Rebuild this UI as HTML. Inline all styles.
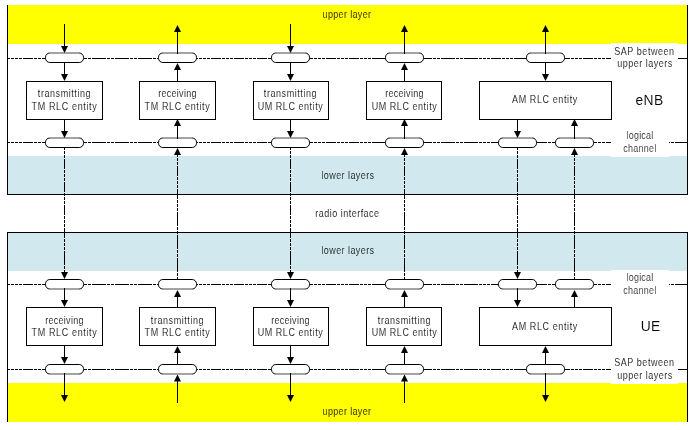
<!DOCTYPE html>
<html lang="en">
<head>
<meta charset="utf-8">
<title>RLC entities overview</title>
<style>
html,body{margin:0;padding:0;background:#fff;}
body{width:693px;height:430px;overflow:hidden;}
svg{display:block;font-family:"Liberation Sans",sans-serif;}
.t{filter:contrast(1);}
</style>
</head>
<body>
<svg width="693" height="430" viewBox="0 0 693 430">
<rect x="0" y="0" width="693" height="430" fill="#fff"/>
<rect x="8" y="5" width="679" height="39" fill="#ffff00"/>
<rect x="8" y="156" width="679" height="38" fill="#d1e9ee"/>
<rect x="8" y="233" width="679" height="38" fill="#d1e9ee"/>
<rect x="8" y="383" width="679" height="39" fill="#ffff00"/>
<rect x="7" y="5" width="1" height="190" fill="#000"/>
<rect x="687" y="5" width="1" height="190" fill="#000"/>
<rect x="7" y="194" width="681" height="1" fill="#000" />
<rect x="7" y="232" width="1" height="190" fill="#000"/>
<rect x="687" y="232" width="1" height="190" fill="#000"/>
<rect x="7" y="232" width="681" height="1" fill="#000" />
<path d="M8 58.5H10M11 58.5H14M15 58.5H18M19 58.5H22M23 58.5H33M34 58.5H37M38 58.5H41M42 58.5H46M84 58.5H87M88 58.5H91M92 58.5H106M107 58.5H110M111 58.5H114M115 58.5H129M130 58.5H133M134 58.5H137M138 58.5H152M153 58.5H156M157 58.5H159M196 58.5H198M199 58.5H202M203 58.5H206M207 58.5H210M211 58.5H221M222 58.5H225M226 58.5H229M230 58.5H233M234 58.5H244M245 58.5H248M249 58.5H252M253 58.5H256M257 58.5H267M268 58.5H272M309 58.5H313M314 58.5H317M318 58.5H321M322 58.5H325M326 58.5H336M337 58.5H340M341 58.5H344M345 58.5H348M349 58.5H359M360 58.5H363M364 58.5H367M368 58.5H371M372 58.5H386M422 58.5H432M433 58.5H436M437 58.5H440M441 58.5H455M456 58.5H459M460 58.5H463M464 58.5H478M479 58.5H482M483 58.5H486M487 58.5H490M491 58.5H501M502 58.5H505M506 58.5H509M510 58.5H513M514 58.5H537M537 58.5H547M548 58.5H551M552 58.5H570M571 58.5H574M575 58.5H578M579 58.5H582M583 58.5H593M594 58.5H597M598 58.5H601M602 58.5H605M606 58.5H612M669 58.5H670M671 58.5H674M675 58.5H687" stroke="#000" stroke-width="1" fill="none" shape-rendering="crispEdges"/>
<path d="M8 142.5H10M11 142.5H14M15 142.5H18M19 142.5H22M23 142.5H33M34 142.5H37M38 142.5H41M42 142.5H46M84 142.5H87M88 142.5H91M92 142.5H106M107 142.5H110M111 142.5H114M115 142.5H129M130 142.5H133M134 142.5H137M138 142.5H152M153 142.5H156M157 142.5H159M196 142.5H198M199 142.5H202M203 142.5H206M207 142.5H210M211 142.5H221M222 142.5H225M226 142.5H229M230 142.5H233M234 142.5H244M245 142.5H248M249 142.5H252M253 142.5H256M257 142.5H267M268 142.5H272M309 142.5H313M314 142.5H317M318 142.5H321M322 142.5H325M326 142.5H336M337 142.5H340M341 142.5H344M345 142.5H348M349 142.5H359M360 142.5H363M364 142.5H367M368 142.5H371M372 142.5H386M422 142.5H432M433 142.5H436M437 142.5H440M441 142.5H455M456 142.5H459M460 142.5H463M464 142.5H478M479 142.5H482M483 142.5H486M487 142.5H490M491 142.5H501M502 142.5H505M506 142.5H509M510 142.5H513M514 142.5H537M537 142.5H547M548 142.5H551M552 142.5H570M571 142.5H574M575 142.5H578M579 142.5H582M583 142.5H593M594 142.5H597M598 142.5H601M602 142.5H605M606 142.5H612M669 142.5H670M671 142.5H674M675 142.5H687" stroke="#000" stroke-width="1" fill="none" shape-rendering="crispEdges"/>
<path d="M8 284.5H10M11 284.5H14M15 284.5H18M19 284.5H22M23 284.5H33M34 284.5H37M38 284.5H41M42 284.5H46M84 284.5H87M88 284.5H91M92 284.5H106M107 284.5H110M111 284.5H114M115 284.5H129M130 284.5H133M134 284.5H137M138 284.5H152M153 284.5H156M157 284.5H159M196 284.5H198M199 284.5H202M203 284.5H206M207 284.5H210M211 284.5H221M222 284.5H225M226 284.5H229M230 284.5H233M234 284.5H244M245 284.5H248M249 284.5H252M253 284.5H256M257 284.5H267M268 284.5H272M309 284.5H313M314 284.5H317M318 284.5H321M322 284.5H325M326 284.5H336M337 284.5H340M341 284.5H344M345 284.5H348M349 284.5H359M360 284.5H363M364 284.5H367M368 284.5H371M372 284.5H386M422 284.5H432M433 284.5H436M437 284.5H440M441 284.5H455M456 284.5H459M460 284.5H463M464 284.5H478M479 284.5H482M483 284.5H486M487 284.5H490M491 284.5H501M502 284.5H505M506 284.5H509M510 284.5H513M514 284.5H537M537 284.5H547M548 284.5H551M552 284.5H570M571 284.5H574M575 284.5H578M579 284.5H582M583 284.5H593M594 284.5H597M598 284.5H601M602 284.5H605M606 284.5H612M669 284.5H670M671 284.5H674M675 284.5H687" stroke="#000" stroke-width="1" fill="none" shape-rendering="crispEdges"/>
<path d="M8 369.5H10M11 369.5H14M15 369.5H18M19 369.5H22M23 369.5H33M34 369.5H37M38 369.5H41M42 369.5H46M84 369.5H87M88 369.5H91M92 369.5H106M107 369.5H110M111 369.5H114M115 369.5H129M130 369.5H133M134 369.5H137M138 369.5H152M153 369.5H156M157 369.5H159M196 369.5H198M199 369.5H202M203 369.5H206M207 369.5H210M211 369.5H221M222 369.5H225M226 369.5H229M230 369.5H233M234 369.5H244M245 369.5H248M249 369.5H252M253 369.5H256M257 369.5H267M268 369.5H272M309 369.5H313M314 369.5H317M318 369.5H321M322 369.5H325M326 369.5H336M337 369.5H340M341 369.5H344M345 369.5H348M349 369.5H359M360 369.5H363M364 369.5H367M368 369.5H371M372 369.5H386M422 369.5H432M433 369.5H436M437 369.5H440M441 369.5H455M456 369.5H459M460 369.5H463M464 369.5H478M479 369.5H482M483 369.5H486M487 369.5H490M491 369.5H501M502 369.5H505M506 369.5H509M510 369.5H513M514 369.5H537M537 369.5H547M548 369.5H551M552 369.5H570M571 369.5H574M575 369.5H578M579 369.5H582M583 369.5H593M594 369.5H597M598 369.5H601M602 369.5H605M606 369.5H612M669 369.5H670M671 369.5H674M675 369.5H687" stroke="#000" stroke-width="1" fill="none" shape-rendering="crispEdges"/>
<rect x="611" y="43" width="67" height="40" fill="#fff"/>
<rect x="611" y="125" width="58" height="32" fill="#fff"/>
<rect x="611" y="270" width="58" height="32" fill="#fff"/>
<rect x="611" y="344" width="67" height="40" fill="#fff"/>
<path d="M64.5 148V150M64.5 151V154M64.5 155V158M64.5 159V169M64.5 170V173M64.5 174V177M64.5 178V181M64.5 182V192M64.5 193V196M64.5 197V200M64.5 201V204M64.5 205V215M64.5 216V219M64.5 220V223M64.5 224V227M64.5 228V238M64.5 239V242M64.5 243V246M64.5 247V250M64.5 251V265M64.5 266V269M64.5 270V273" stroke="#000" stroke-width="1" fill="none" shape-rendering="crispEdges"/>
<path d="M177.5 155V157M177.5 158V161M177.5 162V165M177.5 166V176M177.5 177V180M177.5 181V184M177.5 185V188M177.5 189V199M177.5 200V203M177.5 204V207M177.5 208V211M177.5 212V226M177.5 227V230M177.5 231V234M177.5 235V249M177.5 250V253M177.5 254V257M177.5 258V272M177.5 273V276M177.5 277V279" stroke="#000" stroke-width="1" fill="none" shape-rendering="crispEdges"/>
<path d="M290.5 148V150M290.5 151V154M290.5 155V158M290.5 159V169M290.5 170V173M290.5 174V177M290.5 178V181M290.5 182V192M290.5 193V196M290.5 197V200M290.5 201V204M290.5 205V215M290.5 216V219M290.5 220V223M290.5 224V227M290.5 228V238M290.5 239V242M290.5 243V246M290.5 247V250M290.5 251V265M290.5 266V269M290.5 270V273" stroke="#000" stroke-width="1" fill="none" shape-rendering="crispEdges"/>
<path d="M404.5 155V157M404.5 158V161M404.5 162V165M404.5 166V176M404.5 177V180M404.5 181V184M404.5 185V188M404.5 189V199M404.5 200V203M404.5 204V207M404.5 208V211M404.5 212V226M404.5 227V230M404.5 231V234M404.5 235V249M404.5 250V253M404.5 254V257M404.5 258V272M404.5 273V276M404.5 277V279" stroke="#000" stroke-width="1" fill="none" shape-rendering="crispEdges"/>
<path d="M517.5 148V150M517.5 151V154M517.5 155V158M517.5 159V169M517.5 170V173M517.5 174V177M517.5 178V181M517.5 182V192M517.5 193V196M517.5 197V200M517.5 201V204M517.5 205V215M517.5 216V219M517.5 220V223M517.5 224V227M517.5 228V238M517.5 239V242M517.5 243V246M517.5 247V250M517.5 251V265M517.5 266V269M517.5 270V273" stroke="#000" stroke-width="1" fill="none" shape-rendering="crispEdges"/>
<path d="M574.5 155V157M574.5 158V161M574.5 162V165M574.5 166V176M574.5 177V180M574.5 181V184M574.5 185V188M574.5 189V199M574.5 200V203M574.5 204V207M574.5 208V211M574.5 212V226M574.5 227V230M574.5 231V234M574.5 235V249M574.5 250V253M574.5 254V257M574.5 258V272M574.5 273V276M574.5 277V279" stroke="#000" stroke-width="1" fill="none" shape-rendering="crispEdges"/>
<rect x="26.5" y="81.5" width="76" height="38" fill="#fff" stroke="#000" stroke-width="1" shape-rendering="crispEdges"/>
<rect x="26.5" y="307.5" width="76" height="38" fill="#fff" stroke="#000" stroke-width="1" shape-rendering="crispEdges"/>
<rect x="139.5" y="81.5" width="76" height="38" fill="#fff" stroke="#000" stroke-width="1" shape-rendering="crispEdges"/>
<rect x="139.5" y="307.5" width="76" height="38" fill="#fff" stroke="#000" stroke-width="1" shape-rendering="crispEdges"/>
<rect x="253.5" y="81.5" width="75" height="38" fill="#fff" stroke="#000" stroke-width="1" shape-rendering="crispEdges"/>
<rect x="253.5" y="307.5" width="75" height="38" fill="#fff" stroke="#000" stroke-width="1" shape-rendering="crispEdges"/>
<rect x="366.5" y="81.5" width="75" height="38" fill="#fff" stroke="#000" stroke-width="1" shape-rendering="crispEdges"/>
<rect x="366.5" y="307.5" width="75" height="38" fill="#fff" stroke="#000" stroke-width="1" shape-rendering="crispEdges"/>
<rect x="479.5" y="81.5" width="132" height="38" fill="#fff" stroke="#000" stroke-width="1" shape-rendering="crispEdges"/>
<rect x="479.5" y="307.5" width="132" height="38" fill="#fff" stroke="#000" stroke-width="1" shape-rendering="crispEdges"/>
<rect x="45.5" y="53" width="38" height="9.5" rx="4.3" ry="4.3" fill="#fff"/>
<path d="M49.8 53A4.3 4.3 0 0 0 45.5 57.3V58.2A4.3 4.3 0 0 0 49.8 62.5H79.2A4.3 4.3 0 0 0 83.5 58.2V57.3A4.3 4.3 0 0 0 79.2 53" fill="none" stroke="#000" stroke-width="1"/>
<path d="M49.8 53H79.2" fill="none" stroke="#000" stroke-opacity="0.72" stroke-width="1"/>
<rect x="45.5" y="364.5" width="38" height="9.5" rx="4.3" ry="4.3" fill="#fff"/>
<path d="M49.8 374.0A4.3 4.3 0 0 1 45.5 369.7V368.8A4.3 4.3 0 0 1 49.8 364.5H79.2A4.3 4.3 0 0 1 83.5 368.8V369.7A4.3 4.3 0 0 1 79.2 374.0" fill="none" stroke="#000" stroke-width="1"/>
<path d="M49.8 374.0H79.2" fill="none" stroke="#000" stroke-opacity="0.72" stroke-width="1"/>
<rect x="158.5" y="53" width="38" height="9.5" rx="4.3" ry="4.3" fill="#fff"/>
<path d="M162.8 53A4.3 4.3 0 0 0 158.5 57.3V58.2A4.3 4.3 0 0 0 162.8 62.5H192.2A4.3 4.3 0 0 0 196.5 58.2V57.3A4.3 4.3 0 0 0 192.2 53" fill="none" stroke="#000" stroke-width="1"/>
<path d="M162.8 53H192.2" fill="none" stroke="#000" stroke-opacity="0.72" stroke-width="1"/>
<rect x="158.5" y="364.5" width="38" height="9.5" rx="4.3" ry="4.3" fill="#fff"/>
<path d="M162.8 374.0A4.3 4.3 0 0 1 158.5 369.7V368.8A4.3 4.3 0 0 1 162.8 364.5H192.2A4.3 4.3 0 0 1 196.5 368.8V369.7A4.3 4.3 0 0 1 192.2 374.0" fill="none" stroke="#000" stroke-width="1"/>
<path d="M162.8 374.0H192.2" fill="none" stroke="#000" stroke-opacity="0.72" stroke-width="1"/>
<rect x="271.5" y="53" width="38" height="9.5" rx="4.3" ry="4.3" fill="#fff"/>
<path d="M275.8 53A4.3 4.3 0 0 0 271.5 57.3V58.2A4.3 4.3 0 0 0 275.8 62.5H305.2A4.3 4.3 0 0 0 309.5 58.2V57.3A4.3 4.3 0 0 0 305.2 53" fill="none" stroke="#000" stroke-width="1"/>
<path d="M275.8 53H305.2" fill="none" stroke="#000" stroke-opacity="0.72" stroke-width="1"/>
<rect x="271.5" y="364.5" width="38" height="9.5" rx="4.3" ry="4.3" fill="#fff"/>
<path d="M275.8 374.0A4.3 4.3 0 0 1 271.5 369.7V368.8A4.3 4.3 0 0 1 275.8 364.5H305.2A4.3 4.3 0 0 1 309.5 368.8V369.7A4.3 4.3 0 0 1 305.2 374.0" fill="none" stroke="#000" stroke-width="1"/>
<path d="M275.8 374.0H305.2" fill="none" stroke="#000" stroke-opacity="0.72" stroke-width="1"/>
<rect x="385.5" y="53" width="38" height="9.5" rx="4.3" ry="4.3" fill="#fff"/>
<path d="M389.8 53A4.3 4.3 0 0 0 385.5 57.3V58.2A4.3 4.3 0 0 0 389.8 62.5H419.2A4.3 4.3 0 0 0 423.5 58.2V57.3A4.3 4.3 0 0 0 419.2 53" fill="none" stroke="#000" stroke-width="1"/>
<path d="M389.8 53H419.2" fill="none" stroke="#000" stroke-opacity="0.72" stroke-width="1"/>
<rect x="385.5" y="364.5" width="38" height="9.5" rx="4.3" ry="4.3" fill="#fff"/>
<path d="M389.8 374.0A4.3 4.3 0 0 1 385.5 369.7V368.8A4.3 4.3 0 0 1 389.8 364.5H419.2A4.3 4.3 0 0 1 423.5 368.8V369.7A4.3 4.3 0 0 1 419.2 374.0" fill="none" stroke="#000" stroke-width="1"/>
<path d="M389.8 374.0H419.2" fill="none" stroke="#000" stroke-opacity="0.72" stroke-width="1"/>
<rect x="526.5" y="53" width="38" height="9.5" rx="4.3" ry="4.3" fill="#fff"/>
<path d="M530.8 53A4.3 4.3 0 0 0 526.5 57.3V58.2A4.3 4.3 0 0 0 530.8 62.5H560.2A4.3 4.3 0 0 0 564.5 58.2V57.3A4.3 4.3 0 0 0 560.2 53" fill="none" stroke="#000" stroke-width="1"/>
<path d="M530.8 53H560.2" fill="none" stroke="#000" stroke-opacity="0.72" stroke-width="1"/>
<rect x="526.5" y="364.5" width="38" height="9.5" rx="4.3" ry="4.3" fill="#fff"/>
<path d="M530.8 374.0A4.3 4.3 0 0 1 526.5 369.7V368.8A4.3 4.3 0 0 1 530.8 364.5H560.2A4.3 4.3 0 0 1 564.5 368.8V369.7A4.3 4.3 0 0 1 560.2 374.0" fill="none" stroke="#000" stroke-width="1"/>
<path d="M530.8 374.0H560.2" fill="none" stroke="#000" stroke-opacity="0.72" stroke-width="1"/>
<rect x="45.5" y="138" width="38" height="9.5" rx="4.3" ry="4.3" fill="#fff"/>
<path d="M49.8 138A4.3 4.3 0 0 0 45.5 142.3V143.2A4.3 4.3 0 0 0 49.8 147.5H79.2A4.3 4.3 0 0 0 83.5 143.2V142.3A4.3 4.3 0 0 0 79.2 138" fill="none" stroke="#000" stroke-width="1"/>
<path d="M49.8 138H79.2" fill="none" stroke="#000" stroke-opacity="0.72" stroke-width="1"/>
<rect x="45.5" y="279.5" width="38" height="9.5" rx="4.3" ry="4.3" fill="#fff"/>
<path d="M49.8 289.0A4.3 4.3 0 0 1 45.5 284.7V283.8A4.3 4.3 0 0 1 49.8 279.5H79.2A4.3 4.3 0 0 1 83.5 283.8V284.7A4.3 4.3 0 0 1 79.2 289.0" fill="none" stroke="#000" stroke-width="1"/>
<path d="M49.8 289.0H79.2" fill="none" stroke="#000" stroke-opacity="0.72" stroke-width="1"/>
<rect x="158.5" y="138" width="38" height="9.5" rx="4.3" ry="4.3" fill="#fff"/>
<path d="M162.8 138A4.3 4.3 0 0 0 158.5 142.3V143.2A4.3 4.3 0 0 0 162.8 147.5H192.2A4.3 4.3 0 0 0 196.5 143.2V142.3A4.3 4.3 0 0 0 192.2 138" fill="none" stroke="#000" stroke-width="1"/>
<path d="M162.8 138H192.2" fill="none" stroke="#000" stroke-opacity="0.72" stroke-width="1"/>
<rect x="158.5" y="279.5" width="38" height="9.5" rx="4.3" ry="4.3" fill="#fff"/>
<path d="M162.8 289.0A4.3 4.3 0 0 1 158.5 284.7V283.8A4.3 4.3 0 0 1 162.8 279.5H192.2A4.3 4.3 0 0 1 196.5 283.8V284.7A4.3 4.3 0 0 1 192.2 289.0" fill="none" stroke="#000" stroke-width="1"/>
<path d="M162.8 289.0H192.2" fill="none" stroke="#000" stroke-opacity="0.72" stroke-width="1"/>
<rect x="271.5" y="138" width="38" height="9.5" rx="4.3" ry="4.3" fill="#fff"/>
<path d="M275.8 138A4.3 4.3 0 0 0 271.5 142.3V143.2A4.3 4.3 0 0 0 275.8 147.5H305.2A4.3 4.3 0 0 0 309.5 143.2V142.3A4.3 4.3 0 0 0 305.2 138" fill="none" stroke="#000" stroke-width="1"/>
<path d="M275.8 138H305.2" fill="none" stroke="#000" stroke-opacity="0.72" stroke-width="1"/>
<rect x="271.5" y="279.5" width="38" height="9.5" rx="4.3" ry="4.3" fill="#fff"/>
<path d="M275.8 289.0A4.3 4.3 0 0 1 271.5 284.7V283.8A4.3 4.3 0 0 1 275.8 279.5H305.2A4.3 4.3 0 0 1 309.5 283.8V284.7A4.3 4.3 0 0 1 305.2 289.0" fill="none" stroke="#000" stroke-width="1"/>
<path d="M275.8 289.0H305.2" fill="none" stroke="#000" stroke-opacity="0.72" stroke-width="1"/>
<rect x="385.5" y="138" width="38" height="9.5" rx="4.3" ry="4.3" fill="#fff"/>
<path d="M389.8 138A4.3 4.3 0 0 0 385.5 142.3V143.2A4.3 4.3 0 0 0 389.8 147.5H419.2A4.3 4.3 0 0 0 423.5 143.2V142.3A4.3 4.3 0 0 0 419.2 138" fill="none" stroke="#000" stroke-width="1"/>
<path d="M389.8 138H419.2" fill="none" stroke="#000" stroke-opacity="0.72" stroke-width="1"/>
<rect x="385.5" y="279.5" width="38" height="9.5" rx="4.3" ry="4.3" fill="#fff"/>
<path d="M389.8 289.0A4.3 4.3 0 0 1 385.5 284.7V283.8A4.3 4.3 0 0 1 389.8 279.5H419.2A4.3 4.3 0 0 1 423.5 283.8V284.7A4.3 4.3 0 0 1 419.2 289.0" fill="none" stroke="#000" stroke-width="1"/>
<path d="M389.8 289.0H419.2" fill="none" stroke="#000" stroke-opacity="0.72" stroke-width="1"/>
<rect x="498.5" y="138" width="38" height="9.5" rx="4.3" ry="4.3" fill="#fff"/>
<path d="M502.8 138A4.3 4.3 0 0 0 498.5 142.3V143.2A4.3 4.3 0 0 0 502.8 147.5H532.2A4.3 4.3 0 0 0 536.5 143.2V142.3A4.3 4.3 0 0 0 532.2 138" fill="none" stroke="#000" stroke-width="1"/>
<path d="M502.8 138H532.2" fill="none" stroke="#000" stroke-opacity="0.72" stroke-width="1"/>
<rect x="498.5" y="279.5" width="38" height="9.5" rx="4.3" ry="4.3" fill="#fff"/>
<path d="M502.8 289.0A4.3 4.3 0 0 1 498.5 284.7V283.8A4.3 4.3 0 0 1 502.8 279.5H532.2A4.3 4.3 0 0 1 536.5 283.8V284.7A4.3 4.3 0 0 1 532.2 289.0" fill="none" stroke="#000" stroke-width="1"/>
<path d="M502.8 289.0H532.2" fill="none" stroke="#000" stroke-opacity="0.72" stroke-width="1"/>
<rect x="555.5" y="138" width="38" height="9.5" rx="4.3" ry="4.3" fill="#fff"/>
<path d="M559.8 138A4.3 4.3 0 0 0 555.5 142.3V143.2A4.3 4.3 0 0 0 559.8 147.5H589.2A4.3 4.3 0 0 0 593.5 143.2V142.3A4.3 4.3 0 0 0 589.2 138" fill="none" stroke="#000" stroke-width="1"/>
<path d="M559.8 138H589.2" fill="none" stroke="#000" stroke-opacity="0.72" stroke-width="1"/>
<rect x="555.5" y="279.5" width="38" height="9.5" rx="4.3" ry="4.3" fill="#fff"/>
<path d="M559.8 289.0A4.3 4.3 0 0 1 555.5 284.7V283.8A4.3 4.3 0 0 1 559.8 279.5H589.2A4.3 4.3 0 0 1 593.5 283.8V284.7A4.3 4.3 0 0 1 589.2 289.0" fill="none" stroke="#000" stroke-width="1"/>
<path d="M559.8 289.0H589.2" fill="none" stroke="#000" stroke-opacity="0.72" stroke-width="1"/>
<rect x="64" y="24" width="1" height="26" fill="#000"/>
<polygon points="61,46 68,46 64.5,53" fill="#000"/>
<rect x="177" y="28" width="1" height="26" fill="#000"/>
<polygon points="174,32 181,32 177.5,25" fill="#000"/>
<rect x="290" y="24" width="1" height="26" fill="#000"/>
<polygon points="287,46 294,46 290.5,53" fill="#000"/>
<rect x="404" y="28" width="1" height="26" fill="#000"/>
<polygon points="401,32 408,32 404.5,25" fill="#000"/>
<rect x="545" y="28" width="1" height="26" fill="#000"/>
<polygon points="542,32 549,32 545.5,25" fill="#000"/>
<rect x="64" y="63" width="1" height="15" fill="#000"/>
<polygon points="61,74 68,74 64.5,81" fill="#000"/>
<rect x="177" y="66" width="1" height="15" fill="#000"/>
<polygon points="174,70 181,70 177.5,63" fill="#000"/>
<rect x="290" y="63" width="1" height="15" fill="#000"/>
<polygon points="287,74 294,74 290.5,81" fill="#000"/>
<rect x="404" y="66" width="1" height="15" fill="#000"/>
<polygon points="401,70 408,70 404.5,63" fill="#000"/>
<rect x="545" y="63" width="1" height="15" fill="#000"/>
<polygon points="542,74 549,74 545.5,81" fill="#000"/>
<rect x="64" y="120" width="1" height="15" fill="#000"/>
<polygon points="61,131 68,131 64.5,138" fill="#000"/>
<rect x="177" y="122" width="1" height="17" fill="#000"/>
<polygon points="174,126 181,126 177.5,119" fill="#000"/>
<rect x="177" y="151" width="1" height="4" fill="#000"/>
<polygon points="174,155 181,155 177.5,148" fill="#000"/>
<rect x="290" y="120" width="1" height="15" fill="#000"/>
<polygon points="287,131 294,131 290.5,138" fill="#000"/>
<rect x="404" y="122" width="1" height="17" fill="#000"/>
<polygon points="401,126 408,126 404.5,119" fill="#000"/>
<rect x="404" y="151" width="1" height="4" fill="#000"/>
<polygon points="401,155 408,155 404.5,148" fill="#000"/>
<rect x="517" y="120" width="1" height="15" fill="#000"/>
<polygon points="514,131 521,131 517.5,138" fill="#000"/>
<rect x="574" y="122" width="1" height="17" fill="#000"/>
<polygon points="571,126 578,126 574.5,119" fill="#000"/>
<rect x="574" y="151" width="1" height="4" fill="#000"/>
<polygon points="571,155 578,155 574.5,148" fill="#000"/>
<rect x="64" y="273" width="1" height="3" fill="#000"/>
<polygon points="61,272 68,272 64.5,279" fill="#000"/>
<rect x="64" y="288" width="1" height="16" fill="#000"/>
<polygon points="61,300 68,300 64.5,307" fill="#000"/>
<rect x="177" y="293" width="1" height="15" fill="#000"/>
<polygon points="174,297 181,297 177.5,290" fill="#000"/>
<rect x="290" y="273" width="1" height="3" fill="#000"/>
<polygon points="287,272 294,272 290.5,279" fill="#000"/>
<rect x="290" y="288" width="1" height="16" fill="#000"/>
<polygon points="287,300 294,300 290.5,307" fill="#000"/>
<rect x="404" y="293" width="1" height="15" fill="#000"/>
<polygon points="401,297 408,297 404.5,290" fill="#000"/>
<rect x="517" y="273" width="1" height="3" fill="#000"/>
<polygon points="514,272 521,272 517.5,279" fill="#000"/>
<rect x="517" y="288" width="1" height="16" fill="#000"/>
<polygon points="514,300 521,300 517.5,307" fill="#000"/>
<rect x="574" y="293" width="1" height="15" fill="#000"/>
<polygon points="571,297 578,297 574.5,290" fill="#000"/>
<rect x="64" y="346" width="1" height="15" fill="#000"/>
<polygon points="61,357 68,357 64.5,364" fill="#000"/>
<rect x="177" y="349" width="1" height="15" fill="#000"/>
<polygon points="174,353 181,353 177.5,346" fill="#000"/>
<rect x="290" y="346" width="1" height="15" fill="#000"/>
<polygon points="287,357 294,357 290.5,364" fill="#000"/>
<rect x="404" y="349" width="1" height="15" fill="#000"/>
<polygon points="401,353 408,353 404.5,346" fill="#000"/>
<rect x="545" y="349" width="1" height="15" fill="#000"/>
<polygon points="542,353 549,353 545.5,346" fill="#000"/>
<rect x="64" y="373" width="1" height="26" fill="#000"/>
<polygon points="61,395 68,395 64.5,402" fill="#000"/>
<rect x="177" y="377.5" width="1" height="25.5" fill="#000"/>
<polygon points="174,381.5 181,381.5 177.5,374.5" fill="#000"/>
<rect x="290" y="373" width="1" height="26" fill="#000"/>
<polygon points="287,395 294,395 290.5,402" fill="#000"/>
<rect x="404" y="377.5" width="1" height="25.5" fill="#000"/>
<polygon points="401,381.5 408,381.5 404.5,374.5" fill="#000"/>
<rect x="545" y="373" width="1" height="26" fill="#000"/>
<polygon points="542,395 549,395 545.5,402" fill="#000"/>
<g class="t">
<text transform="translate(322.6 18) scale(0.9 1)" font-size="10" fill="#000" stroke="#ffff00" stroke-width="0.12" letter-spacing="0.381" >upper layer</text>
<text transform="translate(322.6 415) scale(0.9 1)" font-size="10" fill="#000" stroke="#ffff00" stroke-width="0.12" letter-spacing="0.381" >upper layer</text>
<text transform="translate(321.4 179) scale(0.9 1)" font-size="10" fill="#000" stroke="#d1e9ee" stroke-width="0.12" letter-spacing="0.48" >lower layers</text>
<text transform="translate(321.4 254) scale(0.9 1)" font-size="10" fill="#000" stroke="#d1e9ee" stroke-width="0.12" letter-spacing="0.48" >lower layers</text>
<text transform="translate(315.35 217) scale(0.9 1)" font-size="10" fill="#000" stroke="#fff" stroke-width="0.12" letter-spacing="0.538" >radio interface</text>
<text transform="translate(37.85 97) scale(0.9 1)" font-size="10" fill="#000" stroke="#fff" stroke-width="0.12" letter-spacing="0.628" >transmitting</text>
<text transform="translate(31.6 110) scale(0.9 1)" font-size="10" fill="#000" stroke="#fff" stroke-width="0.12" letter-spacing="0.708" >TM RLC entity</text>
<text transform="translate(158.15 97) scale(0.9 1)" font-size="10" fill="#000" stroke="#fff" stroke-width="0.12" letter-spacing="0.331" >receiving</text>
<text transform="translate(144.6 110) scale(0.9 1)" font-size="10" fill="#000" stroke="#fff" stroke-width="0.12" letter-spacing="0.708" >TM RLC entity</text>
<text transform="translate(263.85 97) scale(0.9 1)" font-size="10" fill="#000" stroke="#fff" stroke-width="0.12" letter-spacing="0.628" >transmitting</text>
<text transform="translate(257.7 110) scale(0.9 1)" font-size="10" fill="#000" stroke="#fff" stroke-width="0.12" letter-spacing="0.606" >UM RLC entity</text>
<text transform="translate(385.15 97) scale(0.9 1)" font-size="10" fill="#000" stroke="#fff" stroke-width="0.12" letter-spacing="0.331" >receiving</text>
<text transform="translate(371.7 110) scale(0.9 1)" font-size="10" fill="#000" stroke="#fff" stroke-width="0.12" letter-spacing="0.606" >UM RLC entity</text>
<text transform="translate(45.15 324) scale(0.9 1)" font-size="10" fill="#000" stroke="#fff" stroke-width="0.12" letter-spacing="0.331" >receiving</text>
<text transform="translate(31.6 336) scale(0.9 1)" font-size="10" fill="#000" stroke="#fff" stroke-width="0.12" letter-spacing="0.708" >TM RLC entity</text>
<text transform="translate(150.85 324) scale(0.9 1)" font-size="10" fill="#000" stroke="#fff" stroke-width="0.12" letter-spacing="0.628" >transmitting</text>
<text transform="translate(144.6 336) scale(0.9 1)" font-size="10" fill="#000" stroke="#fff" stroke-width="0.12" letter-spacing="0.708" >TM RLC entity</text>
<text transform="translate(271.15 324) scale(0.9 1)" font-size="10" fill="#000" stroke="#fff" stroke-width="0.12" letter-spacing="0.331" >receiving</text>
<text transform="translate(257.7 336) scale(0.9 1)" font-size="10" fill="#000" stroke="#fff" stroke-width="0.12" letter-spacing="0.606" >UM RLC entity</text>
<text transform="translate(377.85 324) scale(0.9 1)" font-size="10" fill="#000" stroke="#fff" stroke-width="0.12" letter-spacing="0.628" >transmitting</text>
<text transform="translate(371.7 336) scale(0.9 1)" font-size="10" fill="#000" stroke="#fff" stroke-width="0.12" letter-spacing="0.606" >UM RLC entity</text>
<text transform="translate(512.1 103) scale(0.9 1)" font-size="10" fill="#000" stroke="#fff" stroke-width="0.12" letter-spacing="0.665" >AM RLC entity</text>
<text transform="translate(512.1 330) scale(0.9 1)" font-size="10" fill="#000" stroke="#fff" stroke-width="0.12" letter-spacing="0.665" >AM RLC entity</text>
<text transform="translate(614.25 55) scale(0.9 1)" font-size="10" fill="#000" stroke="#fff" stroke-width="0.12" letter-spacing="0.619" >SAP between</text>
<text transform="translate(617.3 67) scale(0.9 1)" font-size="10" fill="#000" stroke="#fff" stroke-width="0.12" letter-spacing="0.544" >upper layers</text>
<text transform="translate(626.55 139) scale(0.9 1)" font-size="10" fill="#222" stroke="#fff" stroke-width="0.12" letter-spacing="0.22" >logical</text>
<text transform="translate(623.3 152) scale(0.9 1)" font-size="10" fill="#222" stroke="#fff" stroke-width="0.12" letter-spacing="0.297" >channel</text>
<text transform="translate(626.55 281) scale(0.9 1)" font-size="10" fill="#222" stroke="#fff" stroke-width="0.12" letter-spacing="0.22" >logical</text>
<text transform="translate(623.3 294) scale(0.9 1)" font-size="10" fill="#222" stroke="#fff" stroke-width="0.12" letter-spacing="0.297" >channel</text>
<text transform="translate(614.25 366) scale(0.9 1)" font-size="10" fill="#000" stroke="#fff" stroke-width="0.12" letter-spacing="0.619" >SAP between</text>
<text transform="translate(617.3 379) scale(0.9 1)" font-size="10" fill="#000" stroke="#fff" stroke-width="0.12" letter-spacing="0.544" >upper layers</text>
<text transform="translate(635.5 105) scale(0.9 1)" font-size="15.4" fill="#000" stroke="#fff" stroke-width="0.1" letter-spacing="0.384" >eNB</text>
<text transform="translate(640.8 331) scale(0.9 1)" font-size="15.4" fill="#000" stroke="#fff" stroke-width="0.1" letter-spacing="0.081" >UE</text>
</g>
</svg>
</body>
</html>
